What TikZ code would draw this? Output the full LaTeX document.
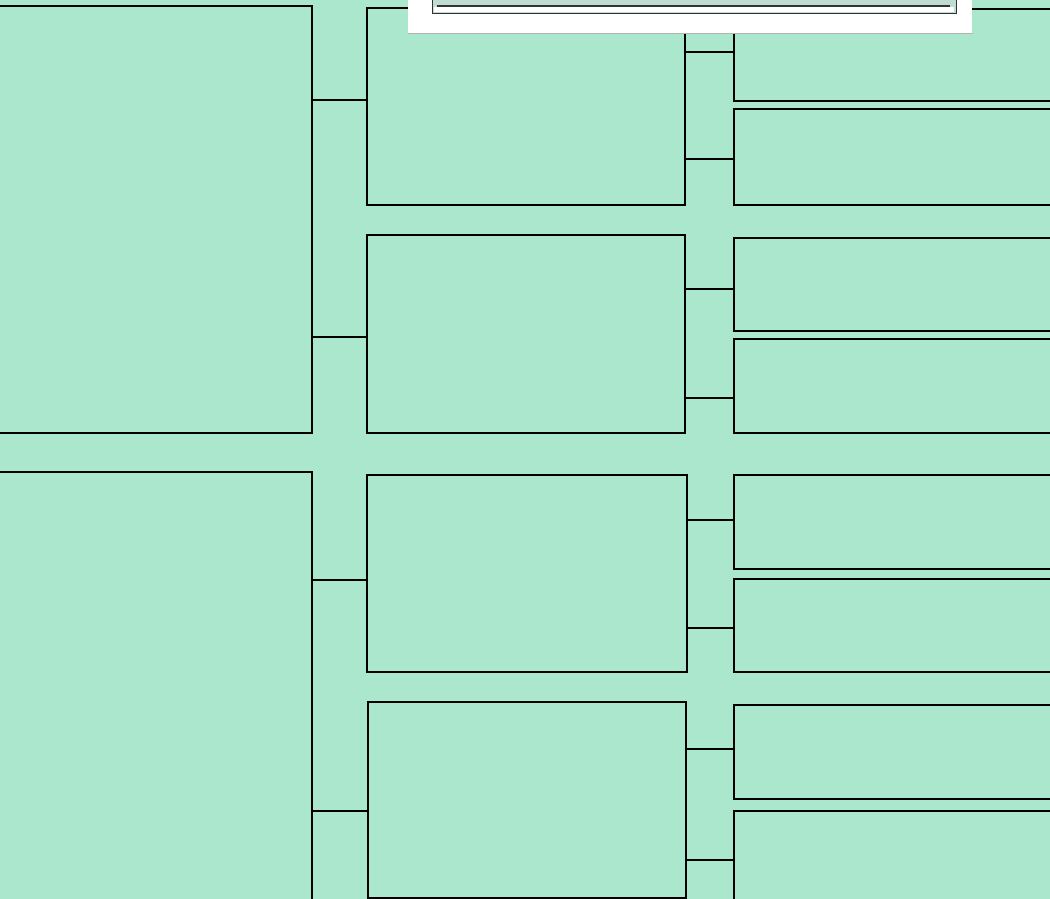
\documentclass[tikz,border=0pt]{standalone}
\usepackage{tikz}
\usetikzlibrary{positioning,calc}
\definecolor{mint}{RGB}{170,231,205}
\definecolor{bandgray}{RGB}{190,220,207}

\begin{document}
\begin{tikzpicture}[
    x=0.25mm, y=-0.25mm,
    slot/.style={rectangle, draw=black, line width=1.3pt, anchor=north west, inner sep=0pt},
    size/.style 2 args={minimum width=#1*0.25mm, minimum height=#2*0.25mm},
    link/.style={draw=black, line width=1.3pt},
    tagcard/.style={rectangle, fill=white, anchor=north west, inner sep=0pt}
]

% Sheet
\path[use as bounding box, fill=mint] (0,0) rectangle (1050,899);
\clip (0,0) rectangle (1050,899);

% First round
\node[slot, size={321}{427}] (L1) at (-10,5) {};
\node[slot, size={321}{440}] (L2) at (-10,471) {};

% Second round
\node[slot, size={318}{197}] (M1) at (366,7) {};
\node[slot, size={318}{198}] (M2) at (366,234) {};
\node[slot, size={320}{197}] (M3) at (366,474) {};
\node[slot, size={318}{196}] (M4) at (367,701) {};

% Third round
\node[slot, size={330}{92}] (R1) at (733,8) {};
\node[slot, size={330}{96}] (R2) at (733,108) {};
\node[slot, size={330}{93}] (R3) at (733,237) {};
\node[slot, size={330}{94}] (R4) at (733,338) {};
\node[slot, size={330}{94}] (R5) at (733,474) {};
\node[slot, size={330}{93}] (R6) at (733,578) {};
\node[slot, size={330}{94}] (R7) at (733,704) {};
\node[slot, size={330}{100}] (R8) at (733,810) {};

% Connections
\draw[link] (L1.east |- 0,100) -- (M1.west |- 0,100);
\draw[link] (L1.east |- 0,337) -- (M2.west |- 0,337);
\draw[link] (L2.east |- 0,580) -- (M3.west |- 0,580);
\draw[link] (L2.east |- 0,811) -- (M4.west |- 0,811);

\draw[link] (M1.east |- 0,52) -- (R1.west |- 0,52);
\draw[link] (M1.east |- 0,159) -- (R2.west |- 0,159);
\draw[link] (M2.east |- 0,289) -- (R3.west |- 0,289);
\draw[link] (M2.east |- 0,398) -- (R4.west |- 0,398);
\draw[link] (M3.east |- 0,520) -- (R5.west |- 0,520);
\draw[link] (M3.east |- 0,628) -- (R6.west |- 0,628);
\draw[link] (M4.east |- 0,749) -- (R7.west |- 0,749);
\draw[link] (M4.east |- 0,860) -- (R8.west |- 0,860);

% Title card
\node[tagcard, size={564}{40}] (tag) at (408,-7) {};
\draw[gray!60, line width=0.9pt] (tag.south west) -- (tag.south east);
\node[slot, draw=black!80, line width=0.8pt, fill=bandgray, size={524}{18}] (frame) at (432,-5) {};
\fill[white] (434,7) rectangle (954,12);
\draw[black!80, line width=0.8pt] (437,6) -- (950,6);

\end{tikzpicture}
\end{document}
